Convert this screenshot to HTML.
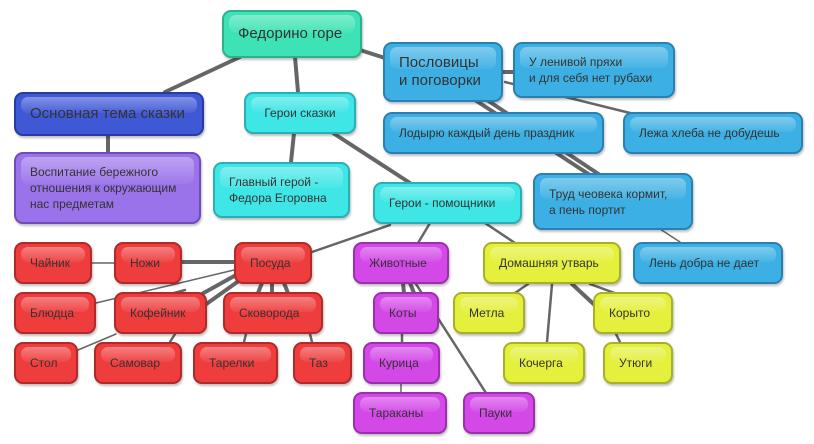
<!DOCTYPE html>
<html><head><meta charset="utf-8"><style>
body{margin:0;width:814px;height:444px;background:#fff;position:relative;overflow:hidden;font-family:"Liberation Sans","DejaVu Sans",sans-serif}
svg{position:absolute;left:0;top:0}
.b{position:absolute;box-sizing:border-box;border-radius:9px;border:2px solid;display:flex;align-items:center;padding-left:14px;font-size:12px;color:#333;line-height:16px;box-shadow:1px 2px 2px rgba(0,0,0,.25);overflow:hidden}
.b::before{content:"";position:absolute;left:5px;right:5px;top:3px;height:40%;border-radius:7px;background:linear-gradient(rgba(255,255,255,.35),rgba(255,255,255,.05))}
.b span{position:relative}
.g{background:#3de3b5;border-color:#2fb08c}
.bl{background:#3f58d6;border-color:#2a3aa0;font-size:15px}
.pu{background:#9a72ea;border-color:#6f4cb8}
.c{background:#3fe6e6;border-color:#2ab0b4}
.s{background:#3cb0e4;border-color:#2a80b0}
.r{background:#ef3d3d;border-color:#b02a2a}
.m{background:#d448e8;border-color:#9a30ac}
.y{background:#e4f03c;border-color:#a8b02a}
</style></head><body>
<svg width="814" height="444" stroke="#666" stroke-linecap="round" fill="none">
<g stroke-width="4">
<line x1="240" y1="57" x2="165" y2="92"/>
<line x1="295" y1="57" x2="298" y2="92"/>
<line x1="360" y1="50" x2="385" y2="58"/>
<line x1="108" y1="136" x2="108" y2="152"/>
<line x1="294" y1="133" x2="291" y2="162"/>
<line x1="333" y1="133" x2="410" y2="183"/>
<line x1="502" y1="72" x2="514" y2="72"/>
<line x1="475" y1="100" x2="590" y2="175"/>
<line x1="487" y1="100" x2="600" y2="175"/>
<line x1="182" y1="262" x2="234" y2="262"/>
<line x1="200" y1="295" x2="236" y2="275"/>
<line x1="205" y1="305" x2="240" y2="280"/>
<line x1="262" y1="283" x2="258" y2="293"/>
<line x1="272" y1="283" x2="272" y2="293"/>
<line x1="284" y1="283" x2="288" y2="293"/>
<line x1="403" y1="283" x2="404" y2="293"/>
<line x1="410" y1="283" x2="414" y2="293"/>
<line x1="572" y1="284" x2="600" y2="310"/>
</g>
<g stroke-width="2.5">
<line x1="505" y1="82" x2="630" y2="113"/>
<line x1="390" y1="225" x2="312" y2="252"/>
<line x1="430" y1="223" x2="418" y2="243"/>
<line x1="485" y1="223" x2="515" y2="243"/>
<line x1="528" y1="284" x2="515" y2="293"/>
<line x1="552" y1="284" x2="547" y2="342"/>
<line x1="590" y1="284" x2="620" y2="295"/>
<line x1="416" y1="284" x2="486" y2="393"/>
<line x1="402" y1="334" x2="402" y2="342"/>
<line x1="185" y1="290" x2="174" y2="293"/>
<line x1="175" y1="334" x2="170" y2="342"/>
<line x1="246" y1="334" x2="244" y2="342"/>
<line x1="310" y1="334" x2="312" y2="342"/>
<line x1="616" y1="334" x2="620" y2="342"/>
</g>
<g stroke-width="1.5">
<line x1="92" y1="263" x2="114" y2="263"/>
<line x1="96" y1="303" x2="234" y2="270"/>
<line x1="78" y1="350" x2="116" y2="334"/>
<line x1="660" y1="229" x2="680" y2="242"/>
<line x1="401" y1="384" x2="401" y2="392"/>
</g>
</svg>
<div class="b g" style="left:222px;top:10px;width:140px;height:48px;font-size:15px"><span>Федорино горе</span></div>
<div class="b bl" style="left:14px;top:92px;width:190px;height:44px"><span>Основная тема сказки</span></div>
<div class="b pu" style="left:14px;top:152px;width:187px;height:72px"><span>Воспитание бережного<br>отношения к окружающим<br>нас предметам</span></div>
<div class="b c" style="left:244px;top:92px;width:112px;height:42px;justify-content:center;padding:0"><span>Герои сказки</span></div>
<div class="b c" style="left:213px;top:162px;width:137px;height:56px"><span>Главный герой -<br>Федора Егоровна</span></div>
<div class="b s" style="left:383px;top:42px;width:120px;height:60px;font-size:15px;line-height:18px"><span>Пословицы<br>и поговорки</span></div>
<div class="b s" style="left:513px;top:42px;width:162px;height:56px"><span>У ленивой пряхи<br>и для себя нет рубахи</span></div>
<div class="b s" style="left:383px;top:112px;width:221px;height:42px"><span>Лодырю каждый день праздник</span></div>
<div class="b s" style="left:623px;top:112px;width:180px;height:42px"><span>Лежа хлеба не добудешь</span></div>
<div class="b s" style="left:533px;top:173px;width:160px;height:57px"><span>Труд чеовека кормит,<br>а пень портит</span></div>
<div class="b s" style="left:633px;top:242px;width:150px;height:42px"><span>Лень добра не дает</span></div>
<div class="b c" style="left:373px;top:182px;width:149px;height:42px"><span>Герои - помощники</span></div>
<div class="b r" style="left:14px;top:242px;width:78px;height:42px"><span>Чайник</span></div>
<div class="b r" style="left:114px;top:242px;width:68px;height:42px"><span>Ножи</span></div>
<div class="b r" style="left:234px;top:242px;width:78px;height:42px"><span>Посуда</span></div>
<div class="b r" style="left:14px;top:292px;width:82px;height:42px"><span>Блюдца</span></div>
<div class="b r" style="left:114px;top:292px;width:93px;height:42px"><span>Кофейник</span></div>
<div class="b r" style="left:223px;top:292px;width:100px;height:42px"><span>Сковорода</span></div>
<div class="b r" style="left:14px;top:342px;width:64px;height:42px"><span>Стол</span></div>
<div class="b r" style="left:94px;top:342px;width:88px;height:42px"><span>Самовар</span></div>
<div class="b r" style="left:193px;top:342px;width:85px;height:42px"><span>Тарелки</span></div>
<div class="b r" style="left:293px;top:342px;width:59px;height:42px"><span>Таз</span></div>
<div class="b m" style="left:353px;top:242px;width:96px;height:42px"><span>Животные</span></div>
<div class="b m" style="left:373px;top:292px;width:66px;height:42px"><span>Коты</span></div>
<div class="b m" style="left:363px;top:342px;width:77px;height:42px"><span>Курица</span></div>
<div class="b m" style="left:353px;top:392px;width:94px;height:42px"><span>Тараканы</span></div>
<div class="b m" style="left:463px;top:392px;width:72px;height:42px"><span>Пауки</span></div>
<div class="b y" style="left:483px;top:242px;width:138px;height:42px"><span>Домашняя утварь</span></div>
<div class="b y" style="left:453px;top:292px;width:72px;height:42px"><span>Метла</span></div>
<div class="b y" style="left:593px;top:292px;width:80px;height:42px"><span>Корыто</span></div>
<div class="b y" style="left:503px;top:342px;width:82px;height:42px"><span>Кочерга</span></div>
<div class="b y" style="left:603px;top:342px;width:70px;height:42px"><span>Утюги</span></div>
</body></html>
